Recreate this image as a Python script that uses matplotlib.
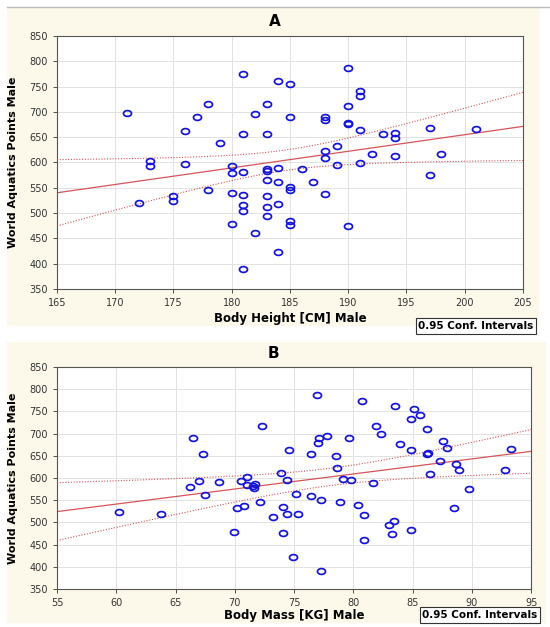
import matplotlib
matplotlib.use('Agg')
import matplotlib.pyplot as plt
import numpy as np
from matplotlib.path import Path
from matplotlib.patches import Rectangle

# panel A: body height vs points
height_cm = [171, 173, 173, 172, 175, 175, 176, 176, 177, 178, 178, 179,
             180, 180, 180, 180, 181, 181, 181, 181, 181, 181, 181,
             182, 182, 183, 183, 183, 183, 183, 183, 183, 183,
             184, 184, 184, 184, 184, 185, 185, 185, 185, 185, 185,
             186, 187, 188, 188, 188, 188, 188, 189, 189,
             190, 190, 190, 190, 190, 191, 191, 191, 191, 192, 193,
             194, 194, 194, 197, 197, 198, 201]
points_a = [698, 603, 593, 520, 533, 524, 663, 597, 690, 716, 546, 639,
            594, 579, 539, 478, 775, 656, 581, 535, 516, 504, 390,
            695, 461, 716, 656, 587, 584, 565, 533, 512, 494,
            762, 590, 561, 518, 423, 756, 690, 551, 546, 484, 477,
            588, 561, 690, 684, 622, 609, 537, 633, 596,
            786, 712, 679, 676, 474, 742, 732, 665, 598, 617, 656,
            658, 649, 613, 668, 576, 617, 666]

# panel B: body mass vs points
mass_kg = [60.2, 63.8, 66.5, 67.3, 66.2, 67.0, 67.5, 68.7, 69.9, 70.2, 70.5,
           70.8, 71.0, 71.0, 71.5, 71.6, 71.7, 72.1, 72.3, 73.2, 73.9, 74.1,
           74.1, 74.4, 74.4, 74.6, 74.9, 75.2, 75.3, 76.4, 76.4, 76.9, 77.1,
           77.0, 77.8, 77.3, 77.3, 78.5, 78.6, 79.1, 79.8, 78.9, 79.6, 80.7,
           80.4, 80.9, 80.9, 81.7, 81.9, 82.3, 83.0, 83.4, 83.3, 83.5, 83.9,
           84.9, 84.9, 85.1, 84.9, 85.6, 86.2, 86.2, 86.3, 86.5, 87.3, 87.6,
           87.9, 88.5, 88.7, 88.9, 89.8, 92.8, 93.3]
points_b = [524, 519, 690, 655, 580, 593, 561, 590, 478, 532, 593,
            537, 603, 585, 583, 578, 587, 546, 716, 512, 612, 535,
            477, 518, 596, 662, 423, 565, 518, 560, 655, 786, 690,
            679, 694, 551, 390, 649, 622, 597, 595, 545, 690, 774,
            539, 516, 461, 588, 716, 698, 494, 504, 473, 762, 677,
            484, 664, 756, 732, 741, 711, 655, 656, 608, 639, 683,
            667, 533, 632, 617, 575, 617, 665]

cream = '#fcf8ea'
blue = '#1414d8'
red = '#d4545a'

# slightly flattened open circle, like the original markers
t = np.linspace(0, 2 * np.pi, 40)
oval = Path(np.column_stack([np.cos(t), 0.72 * np.sin(t)]))


def panel(ax, x, y, xlim, xticks, xlabel, labx):
    x = np.array(x, float)
    y = np.array(y, float)
    n = len(x)
    b, a = np.polyfit(x, y, 1)
    xs = np.linspace(xlim[0], xlim[1], 200)
    fit = a + b * xs
    resid = y - (a + b * x)
    s = np.sqrt(np.sum(resid ** 2) / (n - 2))
    sxx = np.sum((x - x.mean()) ** 2)
    se = s * np.sqrt(1.0 / n + (xs - x.mean()) ** 2 / sxx)
    tval = 1.994
    ax.plot(xs, fit, color=red, lw=0.9, zorder=2)
    ax.plot(xs, fit + tval * se, color=red, lw=0.8, ls=(0, (1, 1.5)), zorder=2)
    ax.plot(xs, fit - tval * se, color=red, lw=0.8, ls=(0, (1, 1.5)), zorder=2)
    ax.plot(x, y, ls='none', marker=oval, ms=5.8, mfc='none', mec=blue,
            mew=1.25, zorder=3)
    ax.set_xlim(xlim)
    ax.set_ylim(350, 850)
    ax.set_xticks(xticks)
    ax.set_yticks(range(350, 851, 50))
    ax.grid(True, color='#e2e2e2', lw=0.7)
    ax.set_axisbelow(True)
    ax.tick_params(labelsize=7, colors='#333333', length=3, width=0.6)
    for sp in ax.spines.values():
        sp.set_color('#555555')
        sp.set_linewidth(0.8)
    ax.set_xlabel(xlabel, fontsize=8.5, fontweight='bold')
    ax.xaxis.set_label_coords(0.5, -0.09)
    ax.set_ylabel('World Aquatics Points Male', fontsize=8, fontweight='bold')
    ax.yaxis.set_label_coords(labx, 0.5)


fig = plt.figure(figsize=(5.5, 6.27), dpi=100)
fig.patches.append(Rectangle((0.0127, 0.4817), 0.9655, 0.5072,
                             transform=fig.transFigure, color=cream, zorder=-5))
fig.patches.append(Rectangle((0.0127, 0.008), 0.978, 0.4466,
                             transform=fig.transFigure, color=cream, zorder=-5))
fig.lines.append(plt.Line2D([0.0127, 1.0], [0.9888, 0.9888],
                            transform=fig.transFigure, color='#bbbbbb', lw=1))

axA = fig.add_axes([0.1036, 0.5391, 0.8473, 0.4035])
panel(axA, height_cm, points_a, (165, 205), range(165, 206, 5),
      'Body Height [CM] Male', -0.084)
axB = fig.add_axes([0.1036, 0.0606, 0.862, 0.3541])
panel(axB, mass_kg, points_b, (55, 95), range(55, 96, 5),
      'Body Mass [KG] Male', -0.082)

fig.text(0.5, 0.9665, 'A', fontsize=11, fontweight='bold', ha='center', va='center')
fig.text(0.497, 0.437, 'B', fontsize=11, fontweight='bold', ha='center', va='center')

box = dict(boxstyle='square,pad=0.25', fc='white', ec='#333333', lw=0.8)
fig.text(476 / 550, 1 - 326 / 627, '0.95 Conf. Intervals', fontsize=7.5,
         fontweight='bold', ha='center', va='center', bbox=box)
fig.text(480 / 550, 1 - 615 / 627, '0.95 Conf. Intervals', fontsize=7.5,
         fontweight='bold', ha='center', va='center', bbox=box)

fig.savefig('out.png', dpi=100)
